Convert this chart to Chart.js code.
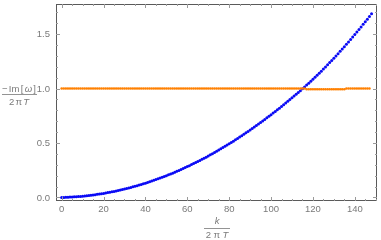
<!DOCTYPE html>
<html>
<head>
<meta charset="utf-8">
<script src="https://cdn.jsdelivr.net/npm/chart.js@4/dist/chart.umd.min.js"></script>
<style>
  html, body { margin: 0; padding: 0; background: #fff; }
  #wrap { width: 381px; height: 240px; }
</style>
</head>
<body>
<div id="wrap"><canvas id="chart" width="381" height="240"></canvas></div>
<script>
    // k / (2 pi T) sample points
    const kValues = [
        0, 1, 2, 3, 4, 5, 6, 7, 8, 9, 10, 11, 12, 13, 14, 15, 16, 17, 18, 19,
        20, 21, 22, 23, 24, 25, 26, 27, 28, 29, 30, 31, 32, 33, 34, 35, 36, 37, 38, 39,
        40, 41, 42, 43, 44, 45, 46, 47, 48, 49, 50, 51, 52, 53, 54, 55, 56, 57, 58, 59,
        60, 61, 62, 63, 64, 65, 66, 67, 68, 69, 70, 71, 72, 73, 74, 75, 76, 77, 78, 79,
        80, 81, 82, 83, 84, 85, 86, 87, 88, 89, 90, 91, 92, 93, 94, 95, 96, 97, 98, 99,
        100, 101, 102, 103, 104, 105, 106, 107, 108, 109, 110, 111, 112, 113, 114, 115, 116, 117, 118, 119,
        120, 121, 122, 123, 124, 125, 126, 127, 128, 129, 130, 131, 132, 133, 134, 135, 136, 137, 138, 139,
        140, 141, 142, 143, 144, 145, 146, 147, 148
    ];

    // blue series: -Im[w] / (2 pi T)
    const blueValues = [
        0.000, 0.000, 0.001, 0.002, 0.003, 0.004, 0.005, 0.006, 0.008, 0.009,
        0.011, 0.013, 0.015, 0.017, 0.020, 0.022, 0.025, 0.028, 0.031, 0.034,
        0.037, 0.040, 0.044, 0.047, 0.051, 0.055, 0.059, 0.063, 0.068, 0.072,
        0.077, 0.082, 0.087, 0.092, 0.097, 0.102, 0.108, 0.113, 0.119, 0.125,
        0.131, 0.137, 0.144, 0.150, 0.157, 0.164, 0.171, 0.178, 0.185, 0.192,
        0.200, 0.208, 0.215, 0.223, 0.232, 0.240, 0.248, 0.257, 0.265, 0.274,
        0.283, 0.292, 0.302, 0.311, 0.321, 0.330, 0.340, 0.350, 0.360, 0.370,
        0.381, 0.391, 0.402, 0.413, 0.424, 0.435, 0.446, 0.458, 0.469, 0.481,
        0.493, 0.505, 0.517, 0.529, 0.542, 0.554, 0.567, 0.580, 0.593, 0.606,
        0.619, 0.633, 0.646, 0.660, 0.674, 0.688, 0.702, 0.716, 0.731, 0.745,
        0.760, 0.775, 0.790, 0.805, 0.820, 0.836, 0.851, 0.867, 0.883, 0.899,
        0.915, 0.932, 0.948, 0.965, 0.981, 0.998, 1.015, 1.033, 1.050, 1.068,
        1.086, 1.104, 1.123, 1.141, 1.160, 1.180, 1.199, 1.219, 1.239, 1.259,
        1.279, 1.300, 1.321, 1.342, 1.363, 1.385, 1.407, 1.429, 1.451, 1.474,
        1.496, 1.520, 1.543, 1.566, 1.590, 1.614, 1.638, 1.663, 1.687
    ];

    // orange series (k = 0 .. 147), ten values per row
    const orangeValues = [
        1, 1, 1, 1, 1, 1, 1, 1, 1, 1,
        1, 1, 1, 1, 1, 1, 1, 1, 1, 1,
        1, 1, 1, 1, 1, 1, 1, 1, 1, 1,
        1, 1, 1, 1, 1, 1, 1, 1, 1, 1,
        1, 1, 1, 1, 1, 1, 1, 1, 1, 1,
        1, 1, 1, 1, 1, 1, 1, 1, 1, 1,
        1, 1, 1, 1, 1, 1, 1, 1, 1, 1,
        1, 1, 1, 1, 1, 1, 1, 1, 1, 1,
        1, 1, 1, 1, 1, 1, 1, 1, 1, 1,
        1, 1, 1, 1, 1, 1, 1, 1, 1, 1,
        1, 1, 1, 1, 1, 1, 1, 1, 1, 1,
        1, 1, 1, 1, 1, 1, 1, 0.994, 0.994, 0.994,
        0.994, 0.994, 0.994, 0.994, 0.994, 0.994, 0.994, 0.994, 0.994, 0.994,
        0.994, 0.994, 0.994, 0.994, 0.994, 0.994, 1, 1, 1, 1,
        1, 1, 1, 1, 1, 1, 1, 1
    ];

    const xTicks = [0, 20, 40, 60, 80, 100, 120, 140];
    const yTicks = [0.0, 0.5, 1.0, 1.5];
    const xMinorStep = 5;
    const yMinorStep = 0.1;

    const blueData = kValues.map((k, i) => ({ x: k, y: blueValues[i] }));
    const orangeData = orangeValues.map((v, i) => ({ x: kValues[i], y: v }));

    const labelFont = '9.5px "Liberation Sans", Arial, sans-serif';
    const titleFont = '9.5px "Liberation Sans", Arial, sans-serif';
    const labelColor = '#7a7a7a';
    const frameColor = '#5a5a5a';

    // draws a stacked fraction; parts are [text, italic]
    function drawFraction(ctx, cx, numBase, barY, denBase, numParts, denParts, barW, gap) {
        const drawParts = (parts, baseY) => {
            let total = 0;
            parts.forEach(p => {
                ctx.font = (p[1] ? 'italic ' : '') + titleFont;
                total += ctx.measureText(p[0]).width;
            });
            total += gap * (parts.length - 1);
            let x = cx - total / 2;
            parts.forEach(p => {
                ctx.font = (p[1] ? 'italic ' : '') + titleFont;
                ctx.fillText(p[0], x, baseY);
                x += ctx.measureText(p[0]).width + gap;
            });
        };
        ctx.textAlign = 'left';
        ctx.textBaseline = 'alphabetic';
        drawParts(numParts, numBase);
        ctx.fillRect(Math.round(cx - barW / 2), barY, barW, 0.8);
        drawParts(denParts, denBase);
    }

    const framePlugin = {
        id: 'framePlugin',
        afterDatasetsDraw(chart) {
            const ctx = chart.ctx;
            const xs = chart.scales.x;
            const ys = chart.scales.y;
            const a = chart.chartArea;
            ctx.save();

            // frame
            ctx.strokeStyle = frameColor;
            ctx.lineWidth = 1;
            ctx.strokeRect(a.left + 0.5, a.top + 0.5, a.right - a.left - 1, a.bottom - a.top - 1);

            // ticks
            ctx.strokeStyle = '#9a9a9a';
            ctx.beginPath();
            for (let v = 0; v <= xs.max; v += xMinorStep) {
                const px = Math.round(xs.getPixelForValue(v)) + 0.5;
                const len = (v % 20 === 0) ? 4 : 2;
                ctx.moveTo(px, a.bottom); ctx.lineTo(px, a.bottom - len);
                ctx.moveTo(px, a.top); ctx.lineTo(px, a.top + len);
            }
            for (let i = 0; i * yMinorStep <= ys.max; i++) {
                const v = i * yMinorStep;
                const py = Math.round(ys.getPixelForValue(v)) + 0.5;
                const len = (i % 5 === 0) ? 4 : 2;
                ctx.moveTo(a.left, py); ctx.lineTo(a.left + len, py);
                ctx.moveTo(a.right, py); ctx.lineTo(a.right - len, py);
            }
            ctx.stroke();

            // tick labels
            ctx.fillStyle = labelColor;
            ctx.font = labelFont;
            ctx.textAlign = 'center';
            ctx.textBaseline = 'middle';
            xTicks.forEach(v => {
                ctx.fillText(String(v), xs.getPixelForValue(v), 209);
            });
            ctx.textAlign = 'right';
            yTicks.forEach(v => {
                ctx.fillText(v.toFixed(1), 50, ys.getPixelForValue(v) + 0.5);
            });

            // axis labels
            drawFraction(ctx, 19, 91.5, 94, 105, [['\u2212', false], ['Im', false], ['[', false], ['\u03c9', true], [']', false]],
                [['2', false], ['\u03c0', false], ['T', true]], 35, 1.3);
            drawFraction(ctx, 217, 223.5, 228, 237.5, [['k', true]],
                [['2', false], ['\u03c0', false], ['T', true]], 26, 2.5);

            ctx.restore();
        }
    };

    new Chart(document.getElementById('chart').getContext('2d'), {
        type: 'scatter',
        data: {
            datasets: [
                {
                    label: 'orange',
                    data: orangeData,
                    backgroundColor: 'rgb(255,128,0)',
                    borderColor: 'rgb(255,128,0)',
                    pointRadius: 1.3,
                    borderWidth: 0,
                    clip: false
                },
                {
                    label: 'blue',
                    data: blueData,
                    backgroundColor: 'rgb(10,10,245)',
                    borderColor: 'rgb(10,10,245)',
                    pointRadius: 1.5,
                    borderWidth: 0,
                    clip: false
                }
            ]
        },
        options: {
            responsive: false,
            animation: false,
            events: [],
            layout: { padding: { left: 56, right: 1, top: 0, bottom: 39 } },
            scales: {
                x: { type: 'linear', display: false, min: -2.7, max: 150.6 },
                y: { type: 'linear', display: false, min: -0.033, max: 1.777 }
            },
            plugins: {
                legend: { display: false },
                tooltip: { enabled: false }
            }
        },
        plugins: [framePlugin]
    });
</script>
</body>
</html>
